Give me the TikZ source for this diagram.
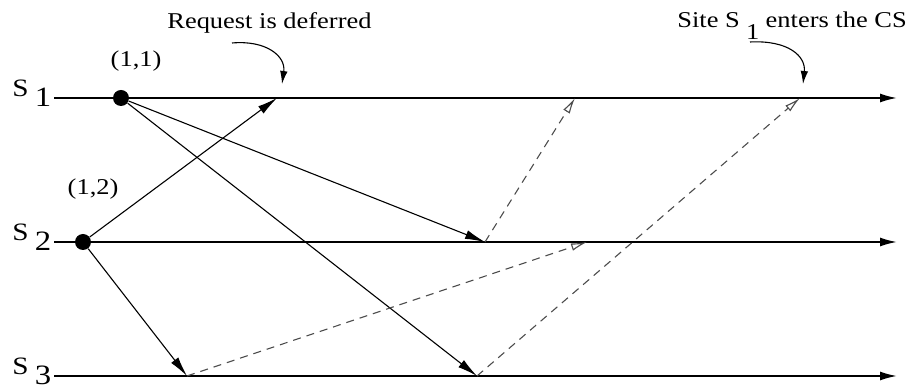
\documentclass[tikz,border=0pt]{standalone}
\usepackage{fontspec}
\setmainfont[FakeStretch=1.17]{Liberation Serif}
\usetikzlibrary{arrows.meta, positioning}
\tikzset{
  siteline/.style={line width=0.9pt, -{Latex[length=8.5pt,width=4.5pt]}},
  request/.style={line width=0.55pt, -{Latex[length=10pt,width=4.5pt]}},
  reply/.style={line width=0.55pt, dash pattern=on 4pt off 3pt, black!70, -{Latex[open,length=8pt,width=3.8pt]}},
  event/.style={circle, fill, inner sep=0pt, minimum size=8pt},
  sitelabel/.style={font=\fontsize{12.5}{15}\selectfont, anchor=base west, inner sep=0pt},
  note/.style={font=\fontsize{11.3}{13}\selectfont, inner sep=0pt},
  pointer/.style={line width=0.55pt, -{Latex[length=6.5pt,width=3.8pt]}}
}
\newcommand{\sitenum}[1]{\raisebox{-5pt}{\fontsize{14}{15}\selectfont #1}}
\begin{document}
\begin{tikzpicture}[x=0.5pt, y=-0.5pt]
\useasboundingbox (0,0) rectangle (911,389);
% time lines of the three sites
\foreach \i/\y in {1/98, 2/242, 3/376}{
  \coordinate (L\i) at (54,\y);
  \coordinate (R\i) at (897,\y);
  \draw[siteline] (L\i) -- (R\i);
  \node[sitelabel] (S\i) at (12,\y-1) {S\hspace{0.25em}\sitenum{\i}};
}
% requests with timestamps
\node[event] (req1) at (121,98) {};
\node[event] (req2) at (83,242) {};
\node[note, above right=10pt and -8.3pt of req1] (ts1) {(1,1)};
\node[note, above right=18pt and -10.8pt of req2] (ts2) {(1,2)};
\coordinate (rcv21) at (277,98);
\coordinate (rcv12) at (485,242);
\coordinate (rcv13) at (477,376);
\coordinate (rcv23) at (187,376);
\draw[request] (req2) -- (rcv21);
\draw[request] (req1) -- (rcv12);
\draw[request] (req1) -- (rcv13);
\draw[request] (req2) -- (rcv23);
% replies
\coordinate (rep21) at (575,98);
\coordinate (rep32) at (587,242);
\coordinate (rep31) at (800,98);
\draw[reply] (rcv12) -- (rep21);
\draw[reply] (rcv23) -- (rep32);
\draw[reply] (rcv13) -- (rep31);
% annotations
\node[note, anchor=base west] (defer) at (167,29) {Request is deferred};
\coordinate (defer0) at (232,43);
\coordinate (defer1) at (282,84);
\draw[pointer] (defer0) .. controls (266,40) and (286,56) .. (defer1);
\node[note, anchor=base west] (enter) at (677,28) {Site S\hspace{0.28em}\raisebox{-0.5em}{1}\hspace{0.28em}enters the CS};
\coordinate (enter0) at (750,42);
\coordinate (enter1) at (803,84);
\draw[pointer] (enter0) .. controls (788,40) and (806,56) .. (enter1);
\end{tikzpicture}
\end{document}
